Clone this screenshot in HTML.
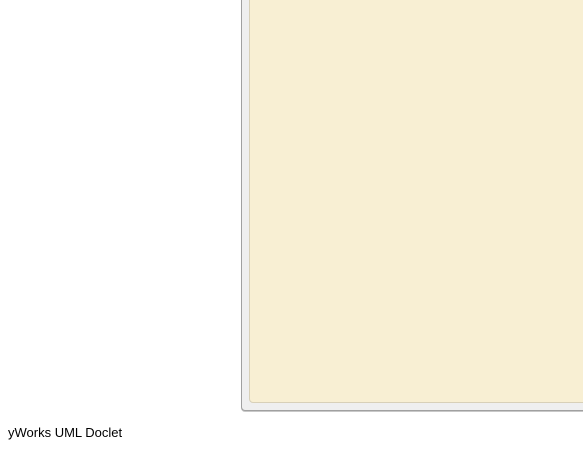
<!DOCTYPE html>
<html><head><meta charset="utf-8"><style>
html,body{margin:0;padding:0;width:583px;height:449px;overflow:hidden;background:#fff;position:relative;font-family:"Liberation Sans","DejaVu Sans",sans-serif}
#outer{position:absolute;left:241px;top:-10px;width:360px;height:419px;background:#efefef;border:1px solid #a0a0a0;border-radius:4px;box-shadow:0 1px 0 #c8c8c8}
#inner{position:absolute;left:249px;top:-10px;width:350px;height:411px;background:#f8efd3;border:1px solid #d8d0b8;border-radius:4px}
#footer{position:absolute;left:8px;top:425px;font-size:13px;color:#000}
</style></head><body>
<div id="outer"></div>
<div id="inner"></div>
<div id="footer">yWorks UML Doclet</div>
</body></html>
